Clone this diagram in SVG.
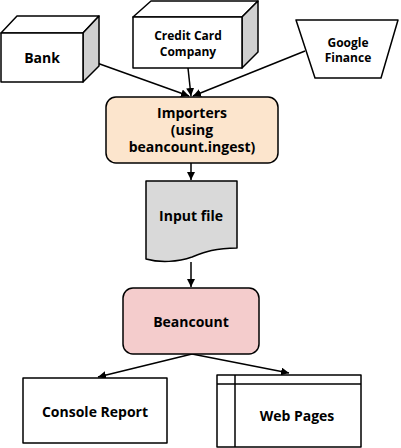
<svg xmlns="http://www.w3.org/2000/svg" width="401" height="448" viewBox="0 0 401 448">
<defs>
<style>
.s{stroke:#000;stroke-width:1.5;fill:#fff;stroke-linejoin:round}
.g{fill:#d0d0d0}
.t{font-family:"Open Sans","Noto Sans",sans-serif;font-weight:bold;font-size:12px;text-anchor:middle;fill:#000}
.b{font-size:14px}
.c{stroke:#000;stroke-width:1.5;fill:none}
</style>
<marker id="ah" viewBox="0 0 10 10" refX="10" refY="5" markerWidth="8" markerHeight="8" markerUnits="userSpaceOnUse" orient="auto"><path d="M0,0L10,5L0,10z" fill="#000"/></marker>
</defs>
<rect width="401" height="448" fill="#fff"/>
<g id="connectors">
<line class="c" x1="83" y1="58" x2="189" y2="96" marker-end="url(#ah)"/>
<line class="c" x1="188" y1="68" x2="191" y2="96" marker-end="url(#ah)"/>
<line class="c" x1="305" y1="51" x2="193" y2="96" marker-end="url(#ah)"/>
<line class="c" x1="191" y1="163" x2="191" y2="180" marker-end="url(#ah)"/>
<line class="c" x1="191" y1="262" x2="191" y2="287" marker-end="url(#ah)"/>
<line class="c" x1="192" y1="354" x2="98" y2="377" marker-end="url(#ah)"/>
<line class="c" x1="192" y1="354" x2="289" y2="373" marker-end="url(#ah)"/>
</g>
<g id="bank">
<path class="s" d="M1,33L17,16L99,16L83,33z"/>
<path class="s g" d="M83,33L99,16L99,66L83,82z"/>
<rect class="s" x="1" y="33" width="82" height="49"/>
<text class="t b" x="42" y="63">Bank</text>
</g>
<g id="credit-card">
<path class="s" d="M133,17L151,1L258,1L242,17z"/>
<path class="s g" d="M242,17L258,1L258,52L242,68z"/>
<rect class="s" x="133" y="17" width="109" height="51"/>
<text class="t" x="188" y="40">Credit Card</text>
<text class="t" x="188" y="56">Company</text>
</g>
<g id="google-finance">
<path class="s" d="M296,20L398,20L381,78L315,78z"/>
<text class="t" x="348" y="47">Google</text>
<text class="t" x="348" y="62">Finance</text>
</g>
<g id="importers">
<rect class="s" x="106" y="97" width="172" height="66" rx="10" style="fill:#fce5cd"/>
<text class="t b" x="192" y="118">Importers</text>
<text class="t b" x="192" y="135">(using</text>
<text class="t b" x="192" y="152">beancount.ingest)</text>
</g>
<g id="input-file">
<path class="s" d="M146,181L237,181L237,248C215,248 205,252 192,257C178,262 160,263 146,259z" style="fill:#d9d9d9"/>
<text class="t b" x="191" y="221">Input file</text>
</g>
<g id="beancount">
<rect class="s" x="123" y="288" width="136" height="66" rx="10" style="fill:#f4cccc"/>
<text class="t b" x="191" y="327">Beancount</text>
</g>
<g id="console-report">
<rect class="s" x="23" y="378" width="144" height="65"/>
<text class="t b" x="95" y="417">Console Report</text>
</g>
<g id="web-pages">
<rect class="s" x="217" y="375" width="144" height="72"/>
<line class="c" x1="217" y1="384" x2="361" y2="384"/>
<line class="c" x1="235" y1="375" x2="235" y2="447"/>
<text class="t b" x="297" y="421">Web Pages</text>
</g>
</svg>
